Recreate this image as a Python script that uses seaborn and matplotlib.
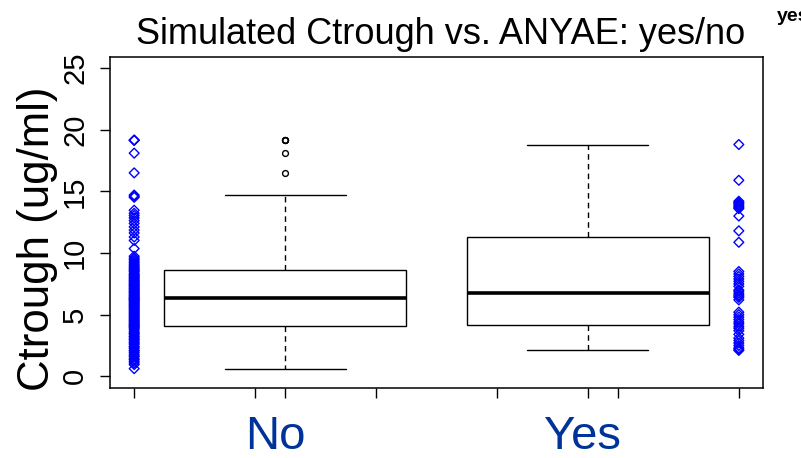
import numpy as np
import pandas as pd
import matplotlib
matplotlib.use("Agg")
import matplotlib.pyplot as plt
import seaborn as sns

# Simulated trough concentrations (ug/ml) by any-adverse-event status
categories = ["No", "Yes"]
ctrough_no = [
    0.62, 0.95, 1.08, 1.21, 1.34, 1.42, 1.58, 1.66, 1.79, 1.93,
    2.05, 2.12, 2.26, 2.38, 2.41, 2.57, 2.69, 2.74, 2.88, 2.97,
    3.05, 3.18, 3.24, 3.36, 3.47, 3.52, 3.64, 3.78, 3.85, 3.97,
    4.02, 4.08,
    4.14, 4.21, 4.29, 4.36, 4.45, 4.52, 4.61, 4.68, 4.77, 4.85,
    4.93, 5.02, 5.11, 5.18, 5.26, 5.34, 5.43, 5.51, 5.58, 5.67,
    5.74, 5.82, 5.89, 5.97, 6.04, 6.11, 6.17, 6.23, 6.29,
    6.33,
    6.38, 6.45, 6.52, 6.58, 6.66, 6.73, 6.81, 6.88, 6.94, 7.02,
    7.09, 7.15, 7.23, 7.31, 7.38, 7.44, 7.52, 7.59, 7.67, 7.74,
    7.81, 7.89, 7.96, 8.04, 8.12, 8.19, 8.27, 8.36, 8.48,
    8.56, 8.64,
    8.72, 8.81, 8.90, 9.02, 9.11, 9.23, 9.35, 9.48, 9.59, 9.74,
    10.36, 11.02, 11.30, 11.62, 11.85, 12.12, 12.40, 12.63, 12.85, 13.04,
    13.22, 13.47, 14.52, 14.60, 14.70, 16.50, 18.10, 19.15, 19.15, 19.15,
]
ctrough_yes = [
    2.10, 2.20, 2.30, 2.50, 2.70, 2.90, 3.10, 3.40, 3.70, 3.90,
    4.05, 4.25,
    4.40, 4.60, 4.80, 5.00, 5.20, 6.20, 6.40, 6.50, 6.60,
    6.74,
    6.90, 7.00, 7.30, 7.50, 7.70, 7.90, 8.10, 8.30, 8.50,
    10.87, 11.80,
    13.00, 13.60, 13.70, 13.80, 13.90, 14.00, 14.10, 14.20, 15.90, 18.80,
]
yticks = [0, 5, 10, 15, 20, 25]

# Layout: boxes sit in the middle, raw values are stacked at the sides
box_pos = {"No": 1.25, "Yes": 3.75}
strip_pos = {"No": 0.0, "Yes": 5.0}
label_pos = {"No": 1.17, "Yes": 3.71}

values = {"No": ctrough_no, "Yes": ctrough_yes}
df = pd.concat(
    [pd.DataFrame({"group": g, "ctrough": values[g]}) for g in categories],
    ignore_index=True,
)
df["box_x"] = df["group"].map(box_pos)
df["strip_x"] = df["group"].map(strip_pos)

sns.set_style("white")
plt.rcParams["font.family"] = ["Liberation Sans", "DejaVu Sans"]
plt.rcParams["text.color"] = "black"
plt.rcParams["axes.labelcolor"] = "black"
plt.rcParams["xtick.color"] = "black"
plt.rcParams["ytick.color"] = "black"

fig = plt.figure(figsize=(8.01, 4.58), dpi=100)
ax = fig.add_axes([110 / 801, 1 - 388 / 458, 653 / 801, 331 / 458])

sns.boxplot(
    data=df, x="box_x", y="ctrough", native_scale=True, width=0.8,
    color="white", linecolor="black", linewidth=1.0,
    medianprops={"linewidth": 2.6, "color": "black"},
    whiskerprops={"linestyle": (0, (4, 3)), "color": "black", "linewidth": 1.0},
    capprops={"color": "black", "linewidth": 1.0},
    flierprops={"marker": "o", "markersize": 4.2, "markerfacecolor": "none",
                "markeredgecolor": "black", "markeredgewidth": 1.0},
    ax=ax,
)
sns.stripplot(
    data=df, x="strip_x", y="ctrough", native_scale=True, jitter=False,
    marker="D", size=5.0, facecolor="none", edgecolor="#0000ff",
    linewidth=1.0, ax=ax,
)

ax.set_xlim(-0.2, 5.2)
ax.set_ylim(-0.95, 25.9)
ax.set_xticks(sorted(list(strip_pos.values()) + list(box_pos.values()) + [1.0, 2.0, 3.0, 4.0]))
ax.set_xticklabels([])
ax.set_yticks(yticks)
ax.set_yticklabels([str(t) for t in yticks], rotation=90, va="center", fontsize=21)
ax.tick_params(axis="both", direction="out", length=7, width=1, color="black",
               left=True, bottom=True)
ax.tick_params(axis="y", pad=8)
for sp in ax.spines.values():
    sp.set_color("black")
    sp.set_linewidth(1.1)

ax.set_xlabel("")
ax.set_ylabel("Ctrough (ug/ml)", fontsize=31.5)
ax.yaxis.set_label_coords(-0.080, 0.450)
ax.set_title("Simulated Ctrough vs. ANYAE: yes/no", fontsize=26, pad=9,
             color="black", x=0.507)

for g in categories:
    ax.text(label_pos[g], -0.148, g, transform=ax.get_xaxis_transform(),
            ha="center", va="center", fontsize=34, color="#003399")

fig.text(777 / 801, 1 - 21 / 458, "yes", fontsize=14, fontweight="bold",
         ha="left", va="baseline")

fig.savefig("out.png", dpi=100, facecolor="white")
